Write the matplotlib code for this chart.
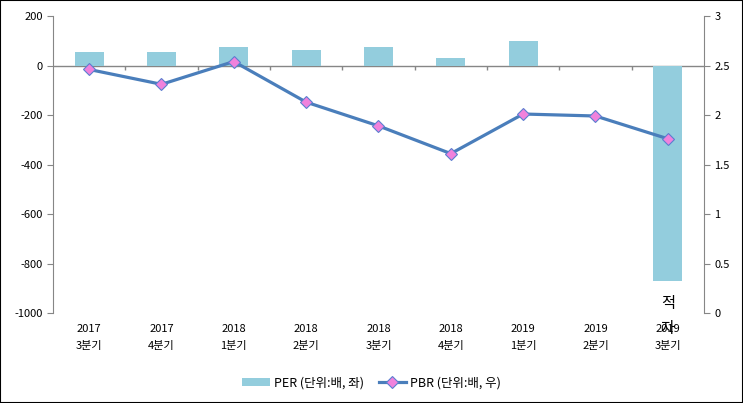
import numpy as np
import matplotlib.pyplot as plt
from matplotlib.patches import Rectangle

plt.rcParams['font.family'] = ['Noto Sans CJK KR', 'DejaVu Sans']
plt.rcParams['axes.unicode_minus'] = False

# 데이터
years = ["2017", "2017", "2018", "2018", "2018", "2018", "2019", "2019", "2019"]
quarters = ["3분기", "4분기", "1분기", "2분기", "3분기", "4분기", "1분기", "2분기", "3분기"]
per = [53, 53, 73, 61, 73, 32, 97, 0, -870]
pbr = [2.46, 2.31, 2.54, 2.13, 1.89, 1.61, 2.01, 1.99, 1.76]

labels = [f"{y}\n{q}" for y, q in zip(years, quarters)]
x = np.arange(len(labels))

fig = plt.figure(figsize=(7.43, 4.03), dpi=100)
ax = fig.add_axes([0.0713, 0.2233, 0.8762, 0.737])
ax2 = ax.twinx()

gray = "#868686"
bar_c = "#93CDDD"
line_c = "#4A7EBB"

ax.bar(x, per, width=0.4, color=bar_c, label="PER (단위:배, 좌)", zorder=2)
ax.set_xlim(-0.5, len(x) - 0.5)
ax.set_ylim(-1000, 200)
ax.set_yticks(np.arange(-1000, 201, 200))
ax.axhline(0, color=gray, lw=1, zorder=1)
ax.vlines(x[:-1] + 0.5, -20, 0, color=gray, lw=1)

ax.set_xticks(x, labels)
ax.tick_params(axis='x', length=0, pad=8, labelsize=8)
for t in ax.get_xticklabels():
    t.set_linespacing(1.9)
ax.tick_params(axis='y', colors=gray, labelcolor='black', labelsize=8, length=4)

for s in ['top', 'bottom', 'right']:
    ax.spines[s].set_visible(False)
ax.spines['left'].set_color(gray)

ax2.plot(x, pbr, color=line_c, lw=2.3, marker='D', ms=6.5, mfc="#F082DC",
         mec="#5B7FD0", mew=0.8, label="PBR (단위:배, 우)", zorder=3)
ax2.set_ylim(0, 3)
ax2.set_yticks(np.arange(0, 3.01, 0.5), ["0", "0.5", "1", "1.5", "2", "2.5", "3"])
ax2.tick_params(axis='y', colors=gray, labelcolor='black', labelsize=8, length=4)
for s in ['top', 'bottom', 'left']:
    ax2.spines[s].set_visible(False)
ax2.spines['right'].set_color(gray)

ax.annotate("적\n자", xy=(x[-1], per[-1]), xytext=(0, -10), textcoords='offset points',
            ha='center', va='top', fontsize=11, linespacing=1.6, annotation_clip=False)

h1, l1 = ax.get_legend_handles_labels()
h2, l2 = ax2.get_legend_handles_labels()
fig.legend(h1 + h2, l1 + l2, loc='center', bbox_to_anchor=(0.5, 0.05), ncol=2,
           frameon=False, fontsize=9, handlelength=2.2, handletextpad=0.3,
           columnspacing=1.2)

fig.patches.append(Rectangle((0, 0), 1, 1, transform=fig.transFigure, fill=False,
                             edgecolor='black', lw=1.5))

fig.savefig("out.png", dpi=100)
